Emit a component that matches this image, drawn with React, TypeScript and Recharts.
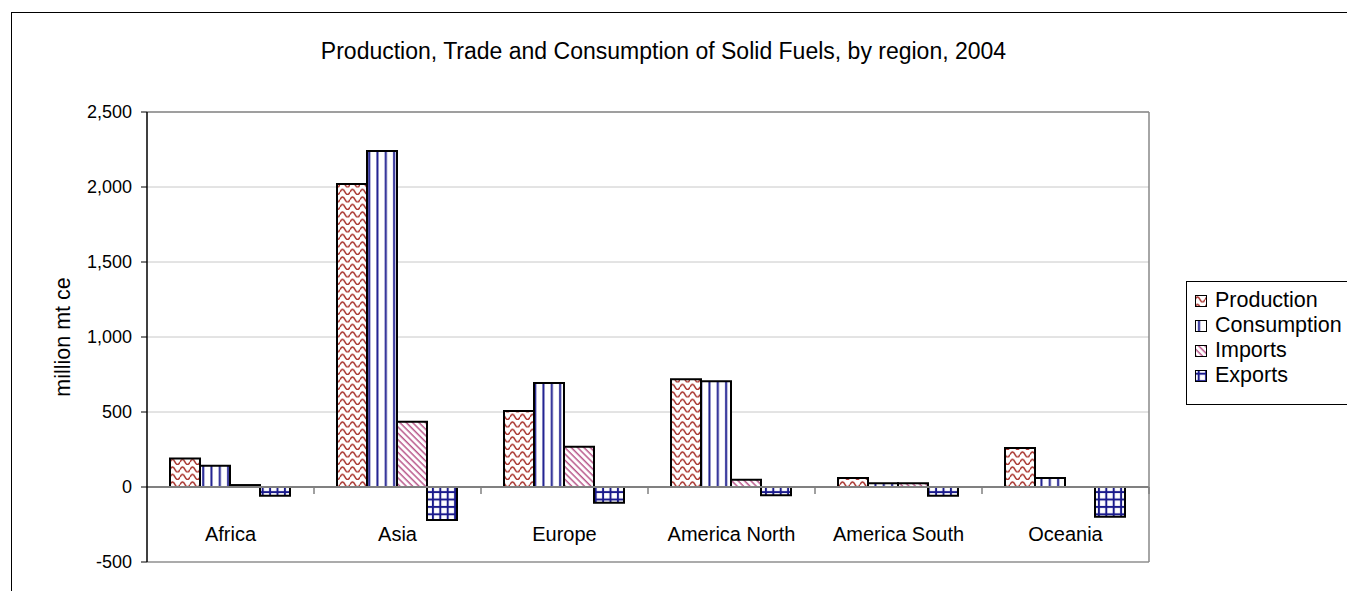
import React from 'react'
import {
  BarChart,
  Bar,
  XAxis,
  YAxis,
  CartesianGrid,
  ReferenceLine,
} from 'recharts'

const regions = ['Africa', 'Asia', 'Europe', 'America North', 'America South', 'Oceania']
const production = [190, 2020, 507, 718, 60, 260]
const consumption = [142, 2240, 693, 705, 25, 60]
const imports = [13, 435, 269, 49, 25, 0]
const exports = [-58, -220, -105, -55, -58, -198]
const yTicks = [-500, 0, 500, 1000, 1500, 2000, 2500]

const series = [
  { key: 'production', name: 'Production', fill: 'url(#prodWave)' },
  { key: 'consumption', name: 'Consumption', fill: 'url(#consStripe)' },
  { key: 'imports', name: 'Imports', fill: 'url(#impDiag)' },
  { key: 'exports', name: 'Exports', fill: 'url(#expGrid)' },
]

const data = regions.map((region, i) => ({
  region,
  production: production[i],
  consumption: consumption[i],
  imports: imports[i],
  exports: exports[i],
}))

const W = 1347
const H = 591
const PLOT_LEFT = 147
const PLOT_TOP = 112
const PLOT_RIGHT = 1149
const PLOT_BOTTOM = 562
const Y_MIN = -500
const Y_MAX = 2500
const BAND = (PLOT_RIGHT - PLOT_LEFT) / regions.length
const ZERO_OFFSET = ((PLOT_BOTTOM - PLOT_TOP) * (0 - Y_MIN)) / (Y_MAX - Y_MIN)
const FONT = '"Liberation Sans", Arial, sans-serif'

const fmt = (v: number) => v.toLocaleString('en-US')

const RegionTick = (props: any) => {
  const { x, y, payload } = props
  return (
    <g>
      <text x={x} y={y - 21} textAnchor="middle" fill="#000" fontSize={20} fontFamily={FONT}>
        {payload.value}
      </text>
      <line
        x1={x + BAND / 2}
        x2={x + BAND / 2}
        y1={y - ZERO_OFFSET}
        y2={y - ZERO_OFFSET + 7}
        stroke="#808080"
        strokeWidth={1.5}
      />
    </g>
  )
}

function Patterns() {
  return (
    <defs>
      <pattern id="prodWave" patternUnits="userSpaceOnUse" width={10} height={7.5}>
        <rect width={10} height={7.5} fill="#fff" />
        <path d="M0 4.5 Q2.5 -0.5 5 4.5 T10 4.5" stroke="#a8322c" strokeWidth={1.5} fill="none" />
      </pattern>
      <pattern id="consStripe" patternUnits="userSpaceOnUse" width={8.3} height={8}>
        <rect width={8.3} height={8} fill="#fff" />
        <line x1={4} x2={4} y1={0} y2={8} stroke="#1c1c8e" strokeWidth={2} />
      </pattern>
      <pattern
        id="impDiag"
        patternUnits="userSpaceOnUse"
        width={4.5}
        height={4.5}
        patternTransform="rotate(-45)"
      >
        <rect width={4.5} height={4.5} fill="#fff" />
        <line x1={2} x2={2} y1={0} y2={4.5} stroke="#b8578a" strokeWidth={1.5} />
      </pattern>
      <pattern id="expGrid" patternUnits="userSpaceOnUse" width={7.4} height={7.4}>
        <rect width={7.4} height={7.4} fill="#fff" />
        <line x1={3.7} x2={3.7} y1={0} y2={7.4} stroke="#1a1a8c" strokeWidth={2} />
        <line x1={0} x2={7.4} y1={3.7} y2={3.7} stroke="#1a1a8c" strokeWidth={2} />
      </pattern>
    </defs>
  )
}

function LegendBox() {
  return (
    <div
      style={{
        position: 'absolute',
        left: 1186,
        top: 281,
        width: 200,
        height: 122,
        border: '1px solid #000',
        background: '#fff',
        fontFamily: FONT,
      }}
    >
      {series.map((s, i) => (
        <div
          key={s.key}
          style={{ position: 'absolute', left: 0, top: 6 + 25 * i, height: 25, width: 200 }}
        >
          <svg width={12} height={12} style={{ position: 'absolute', left: 8, top: 7 }}>
            <rect x={0.5} y={0.5} width={11} height={11} fill={s.fill} stroke="#000" strokeWidth={1} />
          </svg>
          <span
            style={{ position: 'absolute', left: 28, top: 0, fontSize: 21.5, lineHeight: '25px', whiteSpace: 'nowrap' }}
          >
            {s.name}
          </span>
        </div>
      ))}
    </div>
  )
}

export default function App() {
  return (
    <div
      style={{
        position: 'absolute',
        left: 0,
        top: 0,
        width: W,
        height: H,
        overflow: 'hidden',
        background: '#fff',
      }}
    >
      <div
        style={{
          position: 'absolute',
          left: 11,
          top: 12,
          width: 1500,
          height: 800,
          border: '1px solid #000',
        }}
      />
      <div
        style={{
          position: 'absolute',
          left: 0,
          width: 1327,
          top: 59 - 0.905 * 23,
          textAlign: 'center',
          fontFamily: FONT,
          fontSize: 23,
          color: '#000',
          whiteSpace: 'nowrap',
        }}
      >
        Production, Trade and Consumption of Solid Fuels, by region, 2004
      </div>
      <div style={{ position: 'absolute', left: 0, top: 0 }}>
        <BarChart
          width={W}
          height={H}
          data={data}
          margin={{ top: PLOT_TOP - 1, right: W - PLOT_RIGHT - 1, bottom: 0, left: PLOT_LEFT - 80 }}
          barCategoryGap={23}
          barGap={0}
          style={{ fontFamily: FONT }}
        >
          <Patterns />
          <CartesianGrid vertical={false} stroke="#c8c8c8" />
          <XAxis
            dataKey="region"
            height={H - PLOT_BOTTOM}
            tickSize={0}
            tickMargin={0}
            tickLine={false}
            axisLine={{ stroke: '#999', strokeWidth: 1.5 }}
            tick={<RegionTick />}
            interval={0}
          />
          <XAxis
            xAxisId="top"
            orientation="top"
            dataKey="region"
            height={1}
            tick={false}
            tickLine={false}
            axisLine={{ stroke: '#888', strokeWidth: 1.5 }}
          />
          <YAxis
            width={80}
            domain={[Y_MIN, Y_MAX]}
            ticks={yTicks}
            tickFormatter={fmt}
            tickSize={6}
            tickMargin={9}
            tick={{ fill: '#000', fontSize: 18, fontFamily: FONT }}
            tickLine={{ stroke: '#000' }}
            axisLine={{ stroke: '#000', strokeWidth: 1.5 }}
            label={{
              value: 'million mt ce',
              angle: -90,
              position: 'center',
              dx: -45,
              fill: '#000',
              fontSize: 21.5,
              fontFamily: FONT,
            }}
          />
          <YAxis
            yAxisId="right"
            orientation="right"
            width={1}
            domain={[Y_MIN, Y_MAX]}
            ticks={yTicks}
            tick={false}
            tickLine={false}
            axisLine={{ stroke: '#888', strokeWidth: 1.5 }}
          />
          <ReferenceLine y={0} stroke="#808080" strokeWidth={2} />
          {series.map((s) => (
            <Bar
              key={s.key}
              dataKey={s.key}
              name={s.name}
              fill={s.fill}
              stroke="#000"
              strokeWidth={2}
              isAnimationActive={false}
            />
          ))}
        </BarChart>
      </div>
      <LegendBox />
    </div>
  )
}
